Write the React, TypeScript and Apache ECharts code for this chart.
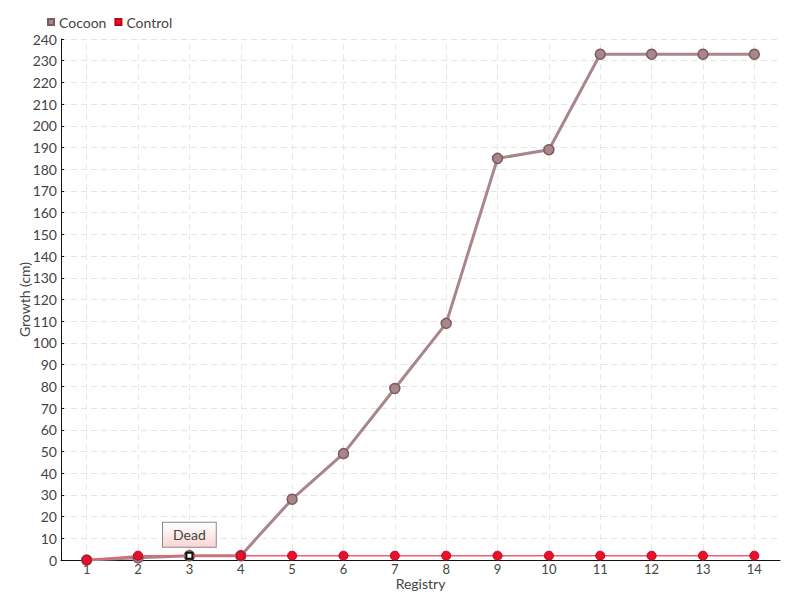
import React, { useEffect, useRef } from "react";
import * as echarts from "echarts";

const categories = ["1", "2", "3", "4", "5", "6", "7", "8", "9", "10", "11", "12", "13", "14"];
const cocoonValues = [0, 1, 2, 2, 28, 49, 79, 109, 185, 189, 233, 233, 233, 233];
const controlValues = [0, 2, 2, 2, 2, 2, 2, 2, 2, 2, 2, 2, 2, 2];
const deadIndex = 2;
const deadLabel = "Dead";

const FONT = "Lato, 'Liberation Sans Narrow', sans-serif";

export default function App() {
  const ref = useRef<HTMLDivElement>(null);
  useEffect(() => {
    if (!ref.current) return;
    const chart = echarts.init(ref.current, null, { renderer: "svg" });
    const controlData = controlValues.map((v, i) =>
      i === deadIndex
        ? {
            value: v,
            symbol: "rect",
            symbolSize: 6,
            itemStyle: { color: "#ffffff", borderColor: "#111111", borderWidth: 2 },
            label: {
              show: true,
              position: "top",
              distance: 5,
              formatter: deadLabel,
              color: "#444",
              fontFamily: FONT,
              fontSize: 14,
              padding: [5, 10, 5, 10],
              borderColor: "#888",
              borderWidth: 1,
              backgroundColor: {
                type: "linear",
                x: 0, y: 0, x2: 0, y2: 1,
                colorStops: [
                  { offset: 0, color: "#ffffff" },
                  { offset: 1, color: "#fbd5d5" },
                ],
              },
            },
          }
        : v
    );
    chart.setOption({
      animation: false,
      textStyle: { fontFamily: FONT },
      legend: {
        left: 42,
        top: 10,
        itemWidth: 6,
        itemHeight: 6,
        itemGap: 8,
        icon: "rect",
        textStyle: { color: "#444", fontSize: 14, fontFamily: FONT },
        data: ["Cocoon", "Control"],
      },
      grid: { left: 61, right: 20, top: 39, bottom: 40, containLabel: false, outerBoundsMode: "none" },
      xAxis: {
        type: "category",
        data: categories,
        boundaryGap: true,
        name: "Registry",
        nameLocation: "middle",
        nameGap: 16,
        nameMoveOverlap: false,
        nameTextStyle: { color: "#444", fontSize: 14, fontFamily: FONT },
        axisLine: { lineStyle: { color: "#111", width: 1 } },
        axisTick: { alignWithLabel: true, inside: true, length: 3, lineStyle: { color: "#111" } },
        axisLabel: { color: "#444", fontSize: 13, margin: 2, fontFamily: FONT },
        splitLine: { show: false },
      },
      yAxis: {
        type: "value",
        min: 0,
        max: 240,
        interval: 10,
        name: "Growth (cm)",
        nameLocation: "middle",
        nameGap: 30,
        nameMoveOverlap: false,
        nameRotate: 90,
        nameTextStyle: { color: "#444", fontSize: 14, fontFamily: FONT },
        axisLine: { show: true, lineStyle: { color: "#111", width: 1 } },
        axisTick: { show: true, inside: true, length: 3, lineStyle: { color: "#111" } },
        axisLabel: { color: "#444", fontSize: 14, margin: 4, fontFamily: FONT },
        splitLine: { show: true, lineStyle: { color: "#e4e4e4", type: [6, 4], width: 1 } },
      },
      series: [
        {
          name: "Cocoon",
          type: "line",
          data: cocoonValues,
          z: 2,
          symbol: "circle",
          symbolSize: 10,
          lineStyle: { color: "#a88689", width: 3 },
          itemStyle: { color: "#a88689", borderColor: "#7a5c60", borderWidth: 1.5 },
          markLine: {
            silent: true,
            symbol: "none",
            label: { show: false },
            lineStyle: { color: "#e8e8e8", type: [6, 4], width: 1 },
            data: categories.map((c) => ({ xAxis: c })),
            z: 0,
          },
        },
        {
          name: "Control",
          type: "line",
          data: controlData,
          z: 3,
          symbol: "circle",
          symbolSize: 9,
          lineStyle: { color: "#ee6070", width: 1.5 },
          itemStyle: { color: "#e8102a", borderColor: "#c00018", borderWidth: 1 },
        },
      ],
    });
    return () => chart.dispose();
  }, []);
  return <div ref={ref} style={{ width: 800, height: 600, position: "absolute", left: 0, top: 0 }} />;
}
